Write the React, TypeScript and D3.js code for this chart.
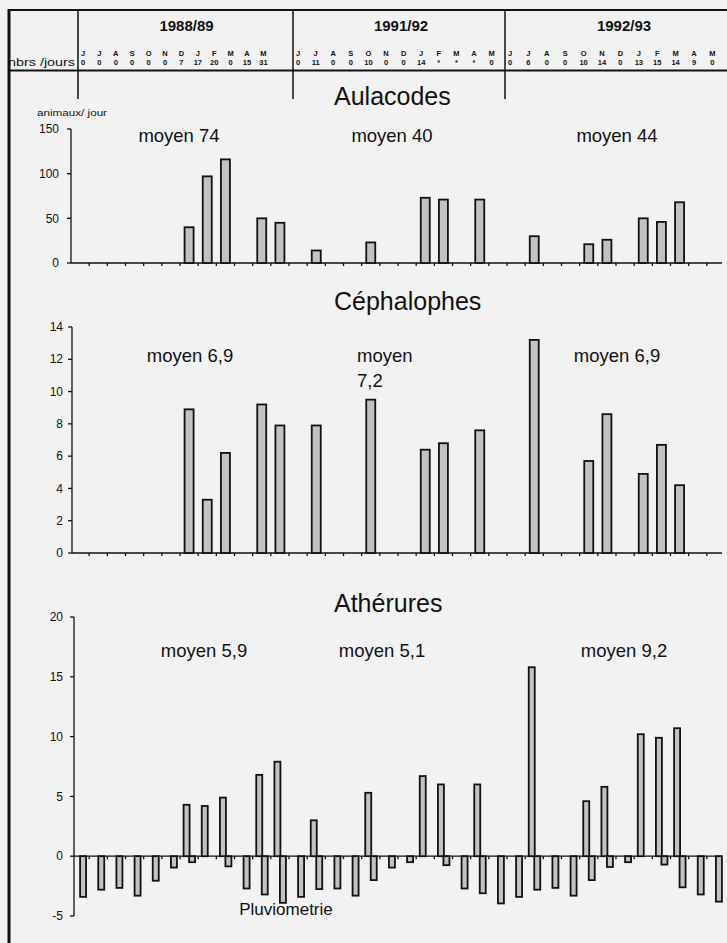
import React from "react";
import * as d3 from "d3";

const W = 727;
const H = 943;

// header table
const seasons = ["1988/89", "1991/92", "1992/93"];
const monthLetters = ["J", "J", "A", "S", "O", "N", "D", "J", "F", "M", "A", "M"];
const daysPerMonth = [
  ["0", "0", "0", "0", "0", "0", "7", "17", "20", "0", "15", "31"],
  ["0", "11", "0", "0", "10", "0", "0", "14", "*", "*", "*", "0"],
  ["0", "6", "0", "0", "10", "14", "0", "13", "15", "14", "9", "0"],
];

// animals per day, one value per month (null = no bar)
const aulacodes = [
  null, null, null, null, null, null, 40, 97, 116, null, 50, 45,
  null, 14, null, null, 23, null, null, 73, 71, null, 71, null,
  null, 30, null, null, 21, 26, null, 50, 46, 68, null, null,
];
const cephalophes = [
  null, null, null, null, null, null, 8.9, 3.3, 6.2, null, 9.2, 7.9,
  null, 7.9, null, null, 9.5, null, null, 6.4, 6.8, null, 7.6, null,
  null, 13.2, null, null, 5.7, 8.6, null, 4.9, 6.7, 4.2, null, null,
];
const atherures = [
  null, null, null, null, null, null, 4.3, 4.2, 4.9, null, 6.8, 7.9,
  null, 3.0, null, null, 5.3, null, null, 6.7, 6.0, null, 6.0, null,
  null, 15.8, null, null, 4.6, 5.8, null, 10.2, 9.9, 10.7, null, null,
];
const pluviometrie = [
  -3.4, -2.8, -2.65, -3.3, -2.05, -0.95, -0.5, 0, -0.85, -2.7, -3.2, -3.9,
  -3.4, -2.75, -2.7, -3.3, -2.0, -0.95, -0.5, 0, -0.75, -2.7, -3.1, -3.95,
  -3.4, -2.8, -2.65, -3.3, -2.0, -0.9, -0.5, 0, -0.7, -2.6, -3.2, -3.8,
];
const means = [
  ["moyen 74", "moyen 40", "moyen 44"],
  ["moyen 6,9", "moyen\n7,2", "moyen 6,9"],
  ["moyen 5,9", "moyen 5,1", "moyen 9,2"],
];

const months = d3.range(36);
const x = d3.scaleBand<number>().domain(months).range([71, 725]);

const FONT = "Arial, 'Liberation Sans', sans-serif";
const BAR_FILL = "#c2c2c2";

type Panel = {
  title: string;
  titleY: number;
  meanY: number;
  meanX: number[];
  y: d3.ScaleLinear<number, number>;
  ticks: number[];
  axisX: number;
  labelX: number;
  means: string[];
};

const panels: Panel[] = [
  {
    title: "Aulacodes", titleY: 105, meanY: 142, meanX: [179, 392, 617],
    y: d3.scaleLinear().domain([0, 150]).range([263, 129]),
    ticks: [0, 50, 100, 150], axisX: 71, labelX: 59, means: means[0],
  },
  {
    title: "Céphalophes", titleY: 310, meanY: 362, meanX: [190, 357, 617],
    y: d3.scaleLinear().domain([0, 14]).range([553, 327]),
    ticks: d3.range(0, 15, 2), axisX: 72, labelX: 63, means: means[1],
  },
  {
    title: "Athérures", titleY: 612, meanY: 657, meanX: [204, 382, 624],
    y: d3.scaleLinear().domain([-5, 20]).range([916, 617]),
    ticks: [-5, 0, 5, 10, 15, 20], axisX: 74, labelX: 63, means: means[2],
  },
];

const Axes = ({ p }: { p: Panel }) => {
  const y0 = p.y(0);
  const [lo, hi] = p.y.domain();
  return (
    <g stroke="#111" strokeWidth={1.3}>
      <line x1={p.axisX} x2={p.axisX} y1={p.y(lo)} y2={p.y(hi)} />
      {p.ticks.map((t) => (
        <line key={t} x1={p.axisX - 4} x2={p.axisX} y1={p.y(t)} y2={p.y(t)} />
      ))}
      <line x1={p.axisX} x2={722} y1={y0} y2={y0} />
      {d3.range(37).map((i) => {
        const xx = (x(0) as number) + i * x.step();
        return xx > p.axisX + 2 && xx < 723 ? (
          <line key={"t" + i} x1={xx} x2={xx} y1={y0} y2={y0 + 3} />
        ) : null;
      })}
      <g stroke="none" fill="#111" fontSize={12} fontFamily={FONT} textAnchor="end">
        {p.ticks.map((t) => (
          <text key={t} x={p.labelX} y={p.y(t)} dy="0.35em">
            {t < 0 ? "-" + Math.abs(t) : t}
          </text>
        ))}
      </g>
    </g>
  );
};

const Texts = ({ p }: { p: Panel }) => (
  <g fill="#111" fontFamily={FONT}>
    <text x={334} y={p.titleY} fontSize={25}>
      {p.title}
    </text>
    {p.means.map((m, i) => {
      const lines = m.split("\n");
      return lines.length > 1 ? (
        <text key={i} x={p.meanX[i]} y={p.meanY} fontSize={18.5}>
          {lines.map((l, j) => (
            <tspan key={j} x={p.meanX[i]} dy={j === 0 ? 0 : 25}>
              {l}
            </tspan>
          ))}
        </text>
      ) : (
        <text key={i} x={p.meanX[i]} y={p.meanY} fontSize={18.5} textAnchor="middle">
          {m}
        </text>
      );
    })}
  </g>
);

const App = () => {
  const [aul, ceph, ath] = panels;
  const bw = 9;
  const thin = 6;
  const cx = (i: number) => (x(i) as number) + x.bandwidth() / 2;

  // header columns per season
  const seasonEdges = [78, 293, 505, 727];
  const letterStart = [83, 298, 510];
  const letterStep = [16.4, 17.6, 18.4];

  return (
    <div style={{ position: "absolute", left: 0, top: 0 }}>
      <svg width={W} height={H} style={{ display: "block", background: "#f2f2f2" }}>
        {/* frame and header table */}
        <g stroke="#111">
          <line x1={9} x2={9} y1={9} y2={H} strokeWidth={3} />
          <line x1={8} x2={W} y1={10} y2={10} strokeWidth={2} />
          <line x1={8} x2={W} y1={70.5} y2={70.5} strokeWidth={2} />
          {seasonEdges.slice(0, 3).map((e) => (
            <line key={e} x1={e} x2={e} y1={10} y2={99} strokeWidth={1.5} />
          ))}
        </g>
        <text
          x={8}
          y={66}
          fontSize={10}
          fontFamily={FONT}
          fill="#111"
          textLength={67}
          lengthAdjust="spacingAndGlyphs"
        >
          nbrs /jours
        </text>
        {seasons.map((s, si) => {
          const pos = d3
            .scaleLinear()
            .domain([0, 11])
            .range([letterStart[si], letterStart[si] + 11 * letterStep[si]]);
          return (
            <g key={s} fontFamily={FONT} fill="#111">
              <text
                x={si === 1 ? 401 : (seasonEdges[si] + seasonEdges[si + 1]) / 2 + (si === 2 ? 8 : 1)}
                y={31}
                fontSize={15}
                fontWeight="bold"
                textAnchor="middle"
              >
                {s}
              </text>
              {monthLetters.map((m, i) => (
                <text key={"m" + i} x={pos(i)} y={56} fontSize={7.5} fontWeight="bold" textAnchor="middle">
                  {m}
                </text>
              ))}
              {daysPerMonth[si].map((d, i) => (
                <text key={"d" + i} x={pos(i)} y={65} fontSize={7.5} fontWeight="bold" textAnchor="middle">
                  {d}
                </text>
              ))}
            </g>
          );
        })}

        <text
          x={37}
          y={116}
          fontSize={9}
          fontFamily={FONT}
          fill="#111"
          textLength={70}
          lengthAdjust="spacingAndGlyphs"
        >
          animaux/ jour
        </text>

        {panels.map((p) => (
          <g key={p.title}>
            <Axes p={p} />
            <Texts p={p} />
          </g>
        ))}

        <g stroke="#111" strokeWidth={1.8} fill={BAR_FILL}>
          {aulacodes.map((v, i) =>
            v == null ? null : (
              <rect key={"a" + i} x={cx(i) - bw / 2} y={aul.y(v)} width={bw} height={aul.y(0) - aul.y(v)} />
            )
          )}
          {cephalophes.map((v, i) =>
            v == null ? null : (
              <rect key={"c" + i} x={cx(i) - bw / 2} y={ceph.y(v)} width={bw} height={ceph.y(0) - ceph.y(v)} />
            )
          )}
          {atherures.map((v, i) =>
            v == null ? null : (
              <rect key={"t" + i} x={cx(i) - 2.5 - thin / 2} y={ath.y(v)} width={thin} height={ath.y(0) - ath.y(v)} />
            )
          )}
          {pluviometrie.map((v, i) =>
            v === 0 ? null : (
              <rect key={"p" + i} x={cx(i) + 3 - thin / 2} y={ath.y(0)} width={thin} height={ath.y(v) - ath.y(0)} />
            )
          )}
        </g>

        <text x={286} y={915} fontSize={17} fontFamily={FONT} fill="#111" textAnchor="middle">
          Pluviometrie
        </text>
      </svg>
    </div>
  );
};

export default App;
